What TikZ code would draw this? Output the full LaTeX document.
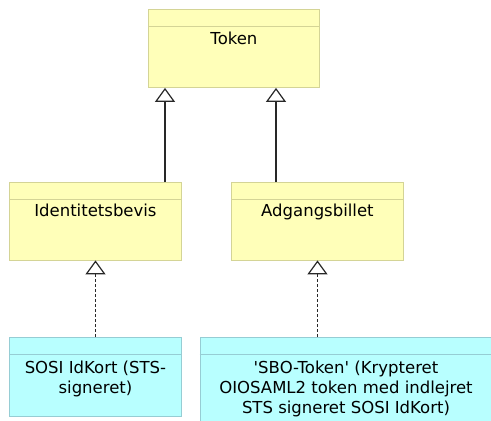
\documentclass[tikz,border=0pt]{standalone}
\usepackage{fontspec}
\setmainfont{DejaVu Sans}
\usetikzlibrary{arrows.meta,calc}
\definecolor{yfill}{RGB}{255,255,185}
\definecolor{yline}{RGB}{212,212,150}
\definecolor{cfill}{RGB}{184,255,255}
\definecolor{cline}{RGB}{150,205,212}
\definecolor{conn}{RGB}{40,40,40}
\tikzset{
  ybox/.style={draw=yline, fill=yfill, line width=0.9pt, anchor=north west, inner sep=0pt, minimum height=78pt},
  cbox/.style={draw=cline, fill=cfill, line width=0.9pt, anchor=north west, inner sep=0pt, minimum height=79pt},
  yhead/.style={draw=yline, line width=0.9pt},
  chead/.style={draw=cline, line width=0.9pt},
  lbl/.style={font=\fontsize{16.5}{20}\selectfont, align=center, inner sep=0pt, anchor=base},
  gen/.style={draw=conn, line width=1.3pt, -{Triangle[open, length=14pt, width=20pt, line width=1.2pt]}},
  realize/.style={draw=conn, line width=1pt, dash pattern=on 3pt off 2pt, -{Triangle[open, length=14pt, width=20pt, line width=1.2pt]}}
}
\begin{document}
\begin{tikzpicture}[x=1pt, y=-1pt]
\useasboundingbox (0,0) rectangle (491,421);
\clip (0,0) rectangle (491,421);
% boxes
\node[ybox, minimum width=171pt] (token) at (148,9) {};
\node[ybox, minimum width=172pt, minimum height=77.5pt] (ident) at (9,182) {};
\node[ybox, minimum width=172pt, minimum height=77.5pt] (adg) at (231,182) {};
\node[cbox, minimum width=172pt] (sosi) at (9,337) {};
\node[cbox, minimum width=293pt, minimum height=100pt] (sbo) at (199.5,337) {};
% header separators
\draw[yhead] ($(token.north west)+(0,17.3)$) -- ($(token.north east)+(0,17.3)$);
\draw[yhead] ($(ident.north west)+(0,17.3)$) -- ($(ident.north east)+(0,17.3)$);
\draw[yhead] ($(adg.north west)+(0,17.3)$) -- ($(adg.north east)+(0,17.3)$);
\draw[chead] ($(sosi.north west)+(0,17.3)$) -- ($(sosi.north east)+(0,17.3)$);
\draw[chead] ($(sbo.north west)+(0,17.3)$) -- ($(sbo.north east)+(0,17.3)$);
% labels (anchor base = baseline of last line)
\node[lbl] (tokenlbl) at ($(token.north)+(0,35)$) {Token};
\node[lbl] (identlbl) at ($(ident.north)+(0,34.7)$) {Identitetsbevis};
\node[lbl] (adglbl) at ($(adg.north)+(0,34.7)$) {Adgangsbillet};
\node[lbl] (sosilbl) at ($(sosi.north)+(0,56.8)$) {SOSI IdKort (STS-\\signeret)};
\node[lbl] (sbolbl) at (346,413.5) {\textquotesingle SBO-Token\textquotesingle{} (Krypteret\\OIOSAML2 token med indlejret\\STS signeret SOSI IdKort)};
% connector x positions
\coordinate (g1) at (165,0);
\coordinate (g2) at (276,0);
\coordinate (r1) at (95.5,0);
\coordinate (r2) at (317.5,0);
% connectors
\draw[gen] (ident.north -| g1) -- (token.south -| g1);
\draw[gen] (adg.north -| g2) -- (token.south -| g2);
\draw[realize] (sosi.north -| r1) -- (ident.south -| r1);
\draw[realize] (sbo.north -| r2) -- (adg.south -| r2);
\end{tikzpicture}
\end{document}
